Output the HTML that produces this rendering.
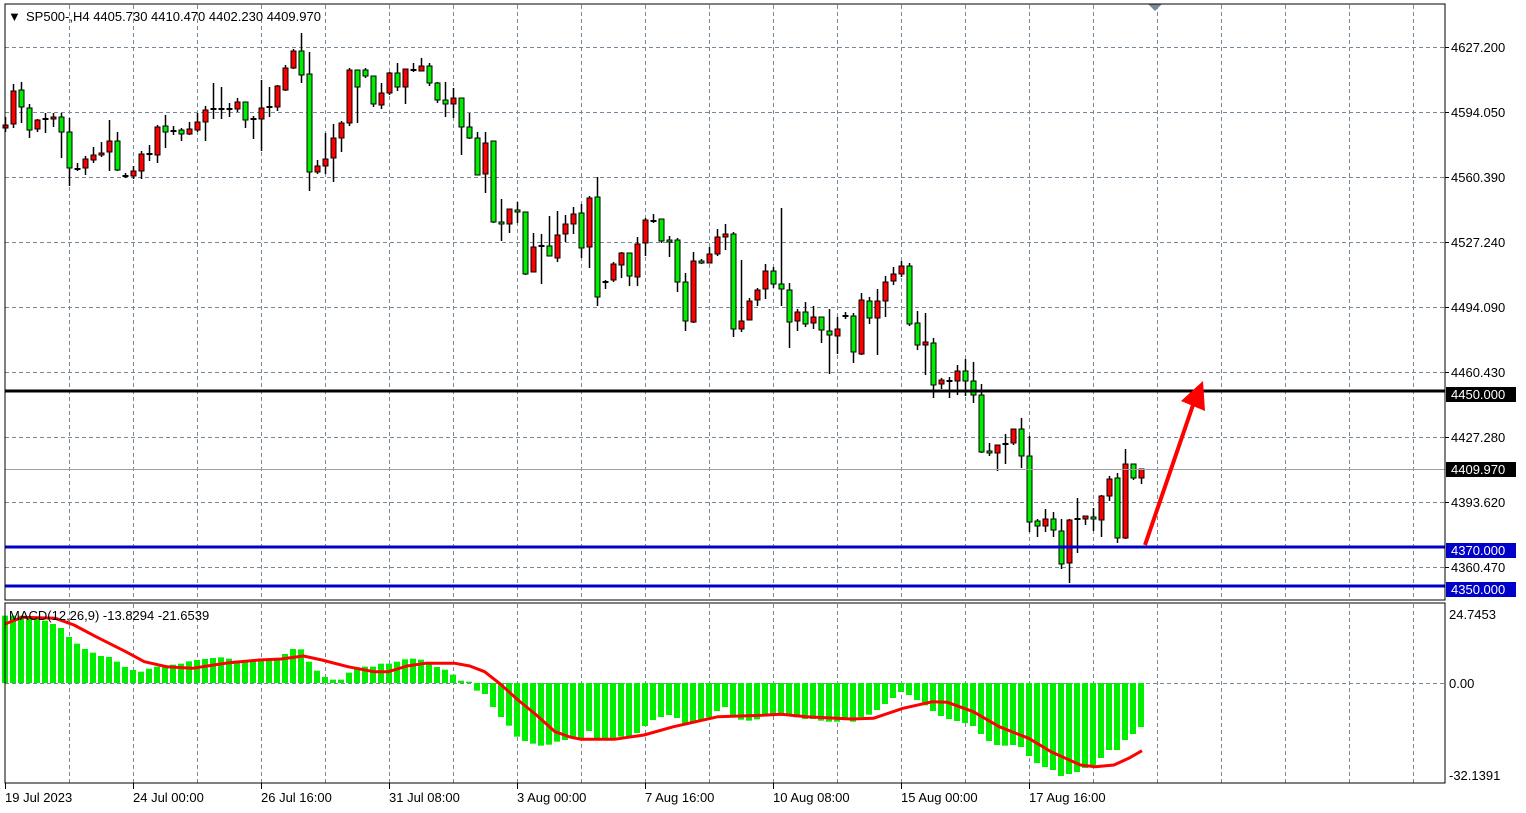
<!DOCTYPE html>
<html><head><meta charset="utf-8"><style>
html,body{margin:0;padding:0;background:#fff;width:1526px;height:813px;overflow:hidden}
svg{display:block;font-family:"Liberation Sans",sans-serif;font-size:13px}
</style></head><body>
<svg id="s" width="1526" height="813" xmlns="http://www.w3.org/2000/svg">
<rect x="0" y="0" width="1526" height="813" fill="#fff"/>
<g id="grid" stroke="#778899" stroke-width="1" stroke-dasharray="4,3"></g>
<g id="main"></g>
<g id="macd"></g>
<line x1="5" y1="469.5" x2="1445" y2="469.5" stroke="#a0a0a0" stroke-width="1"/>
<line x1="5" y1="391" x2="1445" y2="391" stroke="#000" stroke-width="3"/>
<line x1="5" y1="547" x2="1445" y2="547" stroke="#0000c8" stroke-width="3"/>
<line x1="5" y1="586" x2="1445" y2="586" stroke="#0000c8" stroke-width="3"/>
<line x1="1145" y1="545" x2="1193" y2="405" stroke="#ff0000" stroke-width="4"/>
<polygon points="1203,381 1205,411 1181,401" fill="#ff0000"/>
<polygon points="1148,4 1162,4 1155,11" fill="#778899"/>
<rect x="5" y="4" width="1440" height="596" fill="none" stroke="#000" stroke-width="1"/>
<rect x="5" y="603" width="1440" height="180" fill="none" stroke="#000" stroke-width="1"/>
<g id="axis" fill="#000"></g>
<text x="8" y="21">▼</text>
<text x="26" y="21">SP500-,H4  4405.730 4410.470 4402.230 4409.970</text>
<text x="9" y="620">MACD(12,26,9) -13.8294 -21.6539</text>
</svg>
<script>
const NS="http://www.w3.org/2000/svg";
function el(p,t,a,txt){const e=document.createElementNS(NS,t);for(const k in a)e.setAttribute(k,a[k]);if(txt!==undefined)e.textContent=txt;p.appendChild(e);return e;}
const G=document.getElementById('grid'),M=document.getElementById('main'),D=document.getElementById('macd'),A=document.getElementById('axis');
for(let x=69;x<1445;x+=64){el(G,'line',{x1:x+.5,y1:5,x2:x+.5,y2:600});el(G,'line',{x1:x+.5,y1:604,x2:x+.5,y2:783});}
const py=[47,112,177,242,307,372,437,502,567];
py.forEach(y=>el(G,'line',{x1:5,y1:y+.5,x2:1445,y2:y+.5}));
el(G,'line',{x1:5,y1:683.5,x2:1445,y2:683.5});
const C=[[128,125,117,132],[124,91,84,128],[90,107,82,123],[108,130,104,138],[129,120,119,132],[119,119,113,133],[119,117,113,127],[117,132,113,158],[132,168,118,186],[169,169,163,171],[168,159,156,175],[160,155,147,163],[155,153,142,157],[152,141,120,171],[141,170,132,171],[176,176,173,178],[176,171,166,179],[171,154,151,179],[154,154,145,161],[155,127,125,163],[126,132,115,148],[131,131,126,135],[130,134,128,141],[134,129,122,135],[130,122,113,132],[122,110,106,141],[109,109,83,119],[109,109,87,119],[109,109,103,117],[109,102,98,112],[102,120,102,128],[119,119,116,139],[119,108,80,151],[107,107,87,117],[107,86,85,111],[90,68,65,91],[68,51,49,69],[51,75,33,83],[74,172,52,191],[172,166,160,174],[166,159,133,174],[158,138,124,182],[138,123,121,152],[123,70,68,126],[70,87,70,123],[70,76,68,78],[76,104,76,107],[105,93,83,109],[93,73,72,95],[73,87,63,91],[87,69,69,104],[70,70,63,72],[71,66,58,71],[66,83,63,86],[83,100,82,103],[100,104,82,117],[104,98,88,118],[98,127,98,155],[127,138,113,139],[138,175,132,175],[174,143,132,193],[141,222,141,223],[222,224,199,241],[224,209,209,233],[210,212,202,223],[212,274,212,275],[272,247,233,272],[246,246,234,284],[246,256,216,256],[258,235,211,262],[234,224,215,242],[224,214,207,234],[213,248,204,258],[247,198,196,268],[197,297,177,306],[282,282,280,289],[280,264,262,282],[265,253,252,278],[253,276,253,286],[277,244,237,286],[243,220,218,256],[221,221,214,223],[219,241,219,243],[240,242,236,257],[240,282,238,292],[282,321,273,331],[322,261,252,323],[261,263,259,264],[263,254,247,263],[254,237,229,256],[237,234,224,250],[234,329,232,337],[329,321,260,332],[320,301,298,320],[300,290,288,306],[289,271,264,299],[271,284,267,288],[284,289,208,306],[290,322,283,348],[321,312,309,331],[312,324,302,327],[323,317,306,329],[317,330,317,343],[331,335,309,374],[336,329,317,354],[316,316,312,319],[316,352,313,363],[354,300,293,355],[301,318,297,324],[318,301,289,355],[301,282,276,317],[281,274,267,285],[274,266,261,277],[266,324,263,326],[323,345,311,350],[345,342,313,375],[343,385,338,398],[384,380,378,389],[381,381,377,398],[381,371,365,395],[371,381,359,396],[381,395,362,403],[395,452,384,453],[451,453,443,456],[453,445,445,471],[444,444,434,464],[443,429,429,445],[429,456,418,468],[456,522,436,532],[521,526,519,537],[526,519,509,532],[519,530,512,537],[531,564,519,569],[563,520,519,583],[519,519,498,553],[519,516,516,525],[517,519,508,531],[520,496,495,537],[496,479,476,501],[478,538,473,543],[538,464,449,539],[464,478,464,480],[478,469,469,484]];
C.forEach((c,k)=>{const cx=Math.round(5.3+8*k)+.5;const[o,cl,h,l]=c;
el(M,'line',{x1:cx,y1:h,x2:cx,y2:l,stroke:'#000','stroke-width':1.5});
const t=Math.min(o,cl),b=Math.max(o,cl);
if(b-t<1.5){el(M,'line',{x1:cx-3,y1:t,x2:cx+3,y2:t,stroke:'#000','stroke-width':2});}
else el(M,'rect',{x:cx-2.5,y:t,width:5,height:b-t,fill:cl<o?'#ff0000':'#00ee00',stroke:'#000','stroke-width':1});});
const H=[47,47,47,50,55,62,72,84,111,131,147,158,168,171,185,201,210,215,206,200,196,194,191,184,180,177,174,172,176,182,184,183,183,181,176,162,147,148,185,212,231,239,239,218,202,200,200,191,191,185,178,176,179,190,201,209,224,242,245,272,282,321,351,377,410,423,431,437,434,425,420,
410,414,393,414,414,414,410,410,399,378,360,351,345,354,370,370,361,352,333,321,345,359,362,358,345,341,342,345,352,357,357,362,365,365,357,365,351,344,330,312,294,276,285,300,316,333,348,357,363,369,378,402,423,435,437,435,441,468,489,501,510,528,522,516,504,495,474,450,450,420,402,381];
H.forEach((v,k)=>{const cx=Math.round(5.3+8*k);const y=600+v/3;const t=Math.min(y,683),b=Math.max(y,683);
el(D,'rect',{x:cx-3,y:t,width:6,height:Math.max(b-t,1),fill:'#00ee00'});});
const S=[[5,624],[22,617.3],[55.5,618.3],[74,625],[96,636.7],[125.8,651.7],[144.3,661.7],[166.5,666.7],[192.4,668.3],[207.2,666],[229.4,662.7],[259,660],[281.2,659],[303.4,656],[321.9,660],[347.8,666.7],[373.6,671.7],[388.4,671.7],[407,666],[425.5,663.3],[455,663.3],[469.8,666],[484.6,671.7],[499.4,683.3],[518,700],[536.4,715],[555,731.7],[570,737],[581,739.3],[614.4,739.3],[644,735],[673.6,726.7],[718,716.7],[762.4,715.3],[781,714.3],[806.8,716.7],[851.2,719],[873.4,718.3],[903,708.3],[932.6,701.7],[947.4,702.3],[973.3,711.7],[999.2,726.7],[1028.7,738.3],[1051,751.7],[1080.5,765],[1095.4,766.7],[1113.9,765],[1128.7,758.3],[1142,750.7]];
el(D,'polyline',{points:S.map(p=>p.join(',')).join(' '),fill:'none',stroke:'#ff0000','stroke-width':3,'stroke-linejoin':'round'});
const PL=['4627.200','4594.050','4560.390','4527.240','4494.090','4460.430','4427.280','4393.620','4360.470'];
PL.forEach((t,i)=>{el(A,'line',{x1:1445,y1:py[i]+.5,x2:1449,y2:py[i]+.5,stroke:'#000'});el(A,'text',{x:1451,y:py[i]+5},t);});
function box(y,t,bg){el(A,'rect',{x:1446,y:y-7,width:70,height:15,fill:bg});el(A,'text',{x:1451,y:y+5,fill:'#fff'},t);}
box(394,'4450.000','#000');box(469,'4409.970','#000');box(550,'4370.000','#0000c8');box(589,'4350.000','#0000c8');
el(A,'text',{x:1449,y:619},'24.7453');el(A,'text',{x:1449,y:688},'0.00');el(A,'text',{x:1449,y:780},'-32.1391');
const DL=['19 Jul 2023','24 Jul 00:00','26 Jul 16:00','31 Jul 08:00','3 Aug 00:00','7 Aug 16:00','10 Aug 08:00','15 Aug 00:00','17 Aug 16:00'];
DL.forEach((t,i)=>{const x=5+128*i;el(A,'line',{x1:x+.5,y1:783,x2:x+.5,y2:789,stroke:'#000'});el(A,'text',{x:x+(i?0:0),y:802},t);});
</script>
</body></html>
